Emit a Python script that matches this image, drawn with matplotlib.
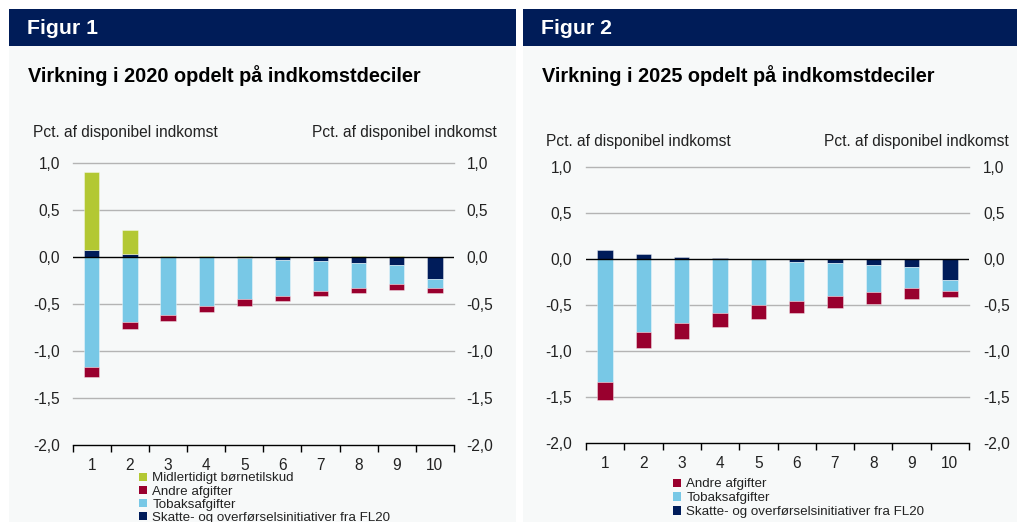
import numpy as np
import matplotlib
matplotlib.use("Agg")
import matplotlib.pyplot as plt
from matplotlib.patches import Rectangle, Patch

plt.rcParams['font.family'] = ['Liberation Sans', 'DejaVu Sans']

W, H = 1017, 522

deciles = ['1', '2', '3', '4', '5', '6', '7', '8', '9', '10']

# Figur 1 - virkning i 2020
navy_20 = [0.07, 0.035, 0.005, 0.0, -0.015, -0.035, -0.045, -0.065, -0.09, -0.23]
tobak_20 = [-1.17, -0.69, -0.615, -0.52, -0.433, -0.375, -0.32, -0.263, -0.20, -0.096]
andre_20 = [-0.11, -0.08, -0.07, -0.07, -0.073, -0.06, -0.055, -0.056, -0.06, -0.06]
boern_20 = [0.83, 0.25, 0.01, 0.01, 0.01, 0.01, 0.01, 0.01, 0.01, 0.0]

# Figur 2 - virkning i 2025
navy_25 = [0.10, 0.058, 0.02, 0.01, 0.0, -0.033, -0.047, -0.065, -0.087, -0.228]
tobak_25 = [-1.34, -0.79, -0.70, -0.587, -0.50, -0.423, -0.353, -0.295, -0.233, -0.117]
andre_25 = [-0.19, -0.18, -0.17, -0.153, -0.155, -0.131, -0.136, -0.126, -0.11, -0.071]

C_NAVY = '#001c5a'
C_TOBAK = '#78c8e6'
C_ANDRE = '#99002e'
C_BOERN = '#b3c833'
BG = '#f7f9f9'
HEADER = '#001c58'

LBL_BOERN = 'Midlertidigt børnetilskud'
LBL_ANDRE = 'Andre afgifter'
LBL_TOBAK = 'Tobaksafgifter'
LBL_NAVY = 'Skatte- og overførselsinitiativer fra FL20'


def fx(px):
    return px / W


def fy(py):
    return 1 - py / H


fig = plt.figure(figsize=(W / 100, H / 100), dpi=100)
fig.patch.set_facecolor('white')


def panel(x0, x1, number, title, pct_y, left_lbl_x, right_lbl_x):
    fig.patches.append(Rectangle((fx(x0), 0), fx(x1 - x0), fy(46), transform=fig.transFigure,
                                 facecolor=BG, edgecolor='none', zorder=-10))
    fig.patches.append(Rectangle((fx(x0), fy(46)), fx(x1 - x0), (46 - 9) / H, transform=fig.transFigure,
                                 facecolor=HEADER, edgecolor='none', zorder=-10))
    fig.text(fx(x0 + 18), fy(28), 'Figur ' + number, color='white', fontsize=15.3,
             fontweight='bold', va='center', ha='left')
    fig.text(fx(x0 + 19), fy(75.5), title, color='black', fontsize=14.3,
             fontweight='bold', va='center', ha='left')
    fig.text(fx(left_lbl_x), fy(pct_y), 'Pct. af disponibel indkomst', fontsize=11.2,
             va='center', ha='left', color='#222222')
    fig.text(fx(right_lbl_x), fy(pct_y), 'Pct. af disponibel indkomst', fontsize=11.2,
             va='center', ha='right', color='#222222')


def chart(rect, series, ypad):
    left, right, top, bottom = rect
    ax = fig.add_axes([fx(left), fy(bottom), fx(right - left), (bottom - top) / H])
    ax.set_facecolor('none')
    x = np.arange(len(deciles))
    pos = np.zeros(len(deciles))
    neg = np.zeros(len(deciles))
    handles = {}
    for vals, color, label in series:
        vals = np.array(vals)
        base = np.where(vals >= 0, pos, neg)
        b = ax.bar(x, vals, bottom=base, width=0.4, color=color,
                   edgecolor=(1, 1, 1, 0.45), linewidth=0.6, zorder=3, label=label)
        handles[label] = b
        pos = pos + np.where(vals >= 0, vals, 0)
        neg = neg + np.where(vals < 0, vals, 0)
    ax.set_xlim(-0.5, len(deciles) - 0.5)
    ax.set_ylim(-2.0, 1.0)
    yt = np.arange(-2.0, 1.01, 0.5)
    ax.set_yticks(yt)
    ax.set_yticklabels([f'{v:.1f}'.replace('.', ',') for v in yt])
    for v in yt:
        if v == 0:
            ax.axhline(0, color='black', lw=1.0, zorder=4)
        elif v > -2.0:
            ax.axhline(v, color='#b4b4b4', lw=1.0, zorder=1, clip_on=False)
    ax.set_xticks(x)
    ax.set_xticklabels(deciles)
    ax.set_xticks(np.arange(-0.5, len(deciles), 1.0), minor=True)
    for s in ['top', 'left', 'right']:
        ax.spines[s].set_visible(False)
    ax.spines['bottom'].set_color('black')
    ax.spines['bottom'].set_linewidth(1.0)
    ax.spines['bottom'].set_zorder(5)
    ax.tick_params(axis='y', length=0, labelsize=11.2, pad=ypad, labelright=True, right=False,
                   labelcolor='#222222')
    ax.tick_params(axis='x', which='major', length=0, labelsize=11.2, pad=9, labelcolor='#222222')
    ax.tick_params(axis='x', which='minor', length=5, width=1, color='black', direction='out')
    return ax, handles


panel(9, 516, '1', 'Virkning i 2020 opdelt på indkomstdeciler', 133, 33, 497)
panel(523, 1017, '2', 'Virkning i 2025 opdelt på indkomstdeciler', 141, 546, 1009)

ax1, h1 = chart((72.7, 454, 163, 445), [
    (navy_20, C_NAVY, LBL_NAVY),
    (tobak_20, C_TOBAK, LBL_TOBAK),
    (andre_20, C_ANDRE, LBL_ANDRE),
    (boern_20, C_BOERN, LBL_BOERN),
], 9)
ax2, h2 = chart((586, 969, 166.7, 443.3), [
    (navy_25, C_NAVY, LBL_NAVY),
    (tobak_25, C_TOBAK, LBL_TOBAK),
    (andre_25, C_ANDRE, LBL_ANDRE),
], 10)


def legend(handles, order, x, y, spacing):
    hs = [Patch(facecolor=handles[k].patches[0].get_facecolor(), edgecolor='none') for k in order]
    leg = fig.legend(hs, order, loc='upper left', bbox_to_anchor=(fx(x), fy(y)),
                     bbox_transform=fig.transFigure, frameon=False, fontsize=9.6,
                     handlelength=0.6, handleheight=0.6, handletextpad=0.4,
                     labelspacing=spacing, borderpad=0, borderaxespad=0)
    for t in leg.get_texts():
        t.set_color('#222222')
    return leg


legend(h1, [LBL_BOERN, LBL_ANDRE, LBL_TOBAK, LBL_NAVY], 139, 472.5, 0.08)
legend(h2, [LBL_ANDRE, LBL_TOBAK, LBL_NAVY], 673, 478.5, 0.14)

fig.savefig('out.png', dpi=100, facecolor='white')
